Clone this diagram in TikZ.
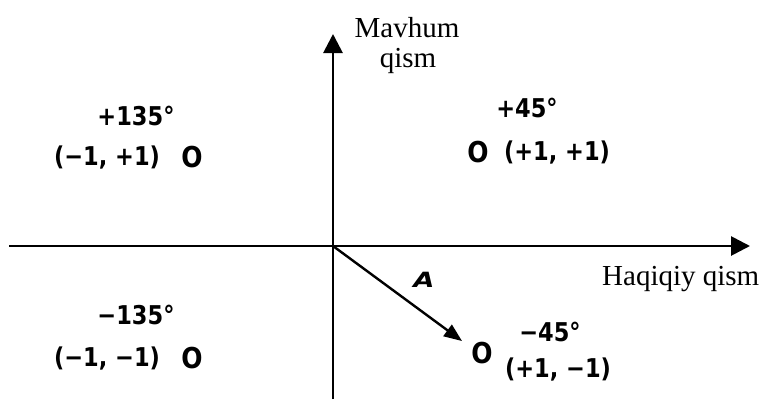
\documentclass[tikz,border=0pt]{standalone}
\usepackage{fontspec}
\usepackage{graphicx}
\setmainfont{Liberation Serif}
\newfontfamily\lblfont{DejaVu Sans}
\newcommand\tallbox[1]{\scalebox{1}[1.15]{#1}}
\usetikzlibrary{arrows.meta}
\begin{document}
\begin{tikzpicture}[x=1pt,y=-1pt,
  axis/.style={line width=2.8pt,-{Triangle[length=19pt,width=19pt]}},
  vec/.style={line width=2.4pt,-{Triangle[length=18pt,width=14pt]}},
  lbl/.style={font=\lblfont\bfseries\fontsize{22.5}{26}\selectfont,inner sep=0pt},
  pt/.style={font=\lblfont\bfseries\fontsize{25}{28}\selectfont,inner sep=0pt},
  axlbl/.style={font=\fontsize{29}{31}\selectfont,inner sep=0pt}]
\useasboundingbox (0,0) rectangle (763,399);
\coordinate (O) at (333,246);
\coordinate (xs) at (9,246);
\coordinate (xe) at (750,246);
\coordinate (ys) at (333,399);
\coordinate (ye) at (333,34);
\draw[axis] (xs) -- (xe);
\draw[axis] (ys) -- (ye);
% labels of the axes
\node[axlbl,anchor=base] (mav) at (407,37) {Mavhum};
\node[axlbl,anchor=base] (qis) at (408,67) {qism};
\node[axlbl,anchor=base west] (haq) at (602,285) {Haqiqiy qism};
% quadrant II
\node[lbl] (a135) at (136,116) {\tallbox{+135°}};
\node[lbl] (c135) at (107,158) {\tallbox{(−1, +1)}};
\node[pt] (p135) at (192,157) {\tallbox{O}};
% quadrant I
\node[lbl] (a45) at (527,108) {\tallbox{+45°}};
\node[pt] (p45) at (478,152) {\tallbox{O}};
\node[lbl] (c45) at (557,153) {\tallbox{(+1, +1)}};
% quadrant III
\node[lbl] (am135) at (136,315) {\tallbox{−135°}};
\node[lbl] (cm135) at (107,359) {\tallbox{(−1, −1)}};
\node[pt] (pm135) at (192,358) {\tallbox{O}};
% quadrant IV
\node[lbl] (am45) at (550,332) {\tallbox{−45°}};
\node[lbl] (cm45) at (558,370) {\tallbox{(+1, −1)}};
\node[pt] (pm45) at (482,353) {\tallbox{O}};
\coordinate (tip) at (462,341);
\draw[vec] (O) -- (tip);
\node[font=\lblfont\bfseries\itshape\fontsize{21}{24}\selectfont,inner sep=0pt] (A) at (424,280) {\scalebox{1.3}[1]{A}};
\end{tikzpicture}
\end{document}
